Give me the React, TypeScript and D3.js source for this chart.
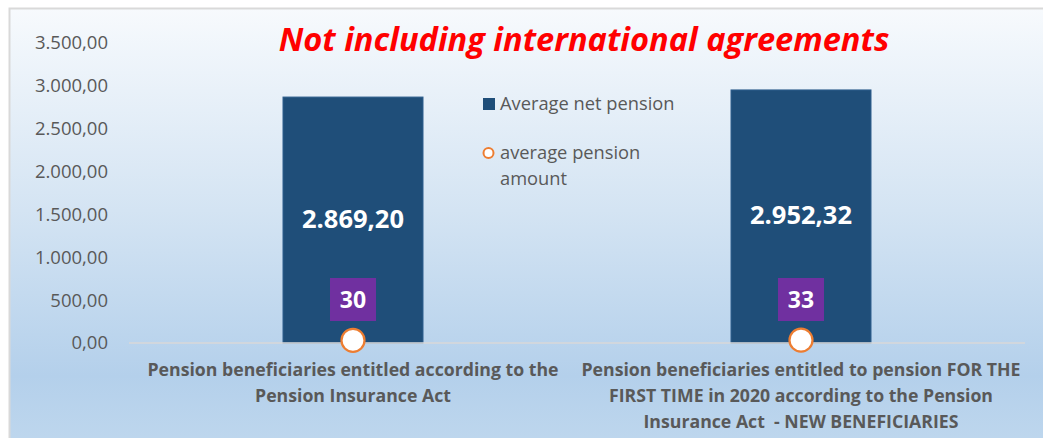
import React from "react";
import * as d3 from "d3";

const categories: string[][] = [
  ["Pension beneficiaries entitled according to the", "Pension Insurance Act"],
  [
    "Pension beneficiaries entitled to pension FOR THE",
    "FIRST TIME in 2020 according to the Pension",
    "Insurance Act  - NEW BENEFICIARIES",
  ],
];
const netPension: number[] = [2869.2, 2952.32];
const pensionAmount: number[] = [30, 33];
const yTicks: number[] = [0, 500, 1000, 1500, 2000, 2500, 3000, 3500];
const title = "Not including international agreements";
const seriesNames = ["Average net pension", ["average pension", "amount"]];

const W = 1043;
const H = 438;
const fmt = (v: number) =>
  v.toLocaleString("de-DE", { minimumFractionDigits: 2, maximumFractionDigits: 2 });

export default function App() {
  const y = d3.scaleLinear().domain([0, 3500]).range([343, 43]);
  const x = d3
    .scaleBand<number>()
    .domain(d3.range(categories.length))
    .range([129, 1025])
    .paddingInner(0)
    .paddingOuter(0);
  const barW = 140;
  const font = "'Open Sans', sans-serif";
  const grey = "#595959";

  return (
    <svg
      width={W}
      height={H}
      style={{ position: "absolute", left: 0, top: 0, display: "block" }}
      fontFamily={font}
    >
      <defs>
        <linearGradient id="bg" x1="0" y1="0" x2="0" y2="1">
          <stop offset="0" stopColor="#f7fafd" />
          <stop offset="0.45" stopColor="#d4e4f3" />
          <stop offset="0.82" stopColor="#b4d0eb" />
          <stop offset="1" stopColor="#c0d8ee" />
        </linearGradient>
      </defs>
      <rect x={0} y={0} width={W} height={H} fill="#ffffff" />
      <rect x={9.5} y={8.5} width={W + 10} height={H + 10} fill="url(#bg)" stroke="#d9d9d9" strokeWidth={2} />

      {/* title */}
      <text
        x={584}
        y={51}
        textAnchor="middle"
        fill="#ff0000"
        fontWeight="bold"
        fontStyle="italic"
        fontSize={32.6}
      >
        {title}
      </text>

      {/* y axis labels */}
      {yTicks.map((t) => (
        <text
          key={t}
          x={108}
          y={y(t)}
          dy="0.35em"
          textAnchor="end"
          fill={grey}
          fontSize={18.5}
        >
          {fmt(t)}
        </text>
      ))}

      {/* bars */}
      {netPension.map((v, i) => {
        const cx = x(i)! + x.bandwidth() / 2;
        return (
          <g key={i}>
            <rect
              x={cx - barW / 2}
              y={y(v)}
              width={barW}
              height={y(0) - y(v)}
              fill="#1f4e79"
              stroke="#2f5f8e"
              strokeWidth={1}
            />
            <text
              x={cx}
              y={(y(v) + y(0)) / 2 - 1}
              dy="0.35em"
              textAnchor="middle"
              fill="#ffffff"
              fontWeight="bold"
              fontSize={25.5}
            >
              {fmt(v)}
            </text>
          </g>
        );
      })}

      {/* baseline */}
      <line x1={129} x2={1025} y1={y(0)} y2={y(0)} stroke="#d9d9d9" strokeWidth={1.5} />

      {/* markers and labels */}
      {pensionAmount.map((v, i) => {
        const cx = x(i)! + x.bandwidth() / 2;
        return (
          <g key={i}>
            <rect x={cx - 23} y={278} width={46} height={43} fill="#7030a0" />
            <text
              x={cx}
              y={299.5}
              dy="0.35em"
              textAnchor="middle"
              fill="#ffffff"
              fontWeight="bold"
              fontSize={23}
            >
              {v}
            </text>
            <circle cx={cx} cy={y(v)} r={11.5} fill="#ffffff" stroke="#ed7d31" strokeWidth={2.2} />
          </g>
        );
      })}

      {/* category labels */}
      {categories.map((lines, i) => {
        const cx = x(i)! + x.bandwidth() / 2;
        return (
          <text key={i} textAnchor="middle" fill={grey} fontWeight="bold" fontSize={17.7}>
            {lines.map((l, j) => (
              <tspan key={j} x={cx} y={376 + j * 26} style={{ whiteSpace: "pre" }}>
                {l}
              </tspan>
            ))}
          </text>
        );
      })}

      {/* legend */}
      <rect x={483} y={98} width={12} height={12} fill="#1f4e79" />
      <text x={500} y={104} dy="0.35em" fill={grey} fontSize={18.3}>
        {seriesNames[0] as string}
      </text>
      <circle cx={488.5} cy={153} r={5} fill="#ffffff" stroke="#ed7d31" strokeWidth={2} />
      <text fill={grey} fontSize={18.3}>
        {(seriesNames[1] as string[]).map((l, j) => (
          <tspan key={j} x={500} y={153 + j * 26} dy="0.35em">
            {l}
          </tspan>
        ))}
      </text>
    </svg>
  );
}
